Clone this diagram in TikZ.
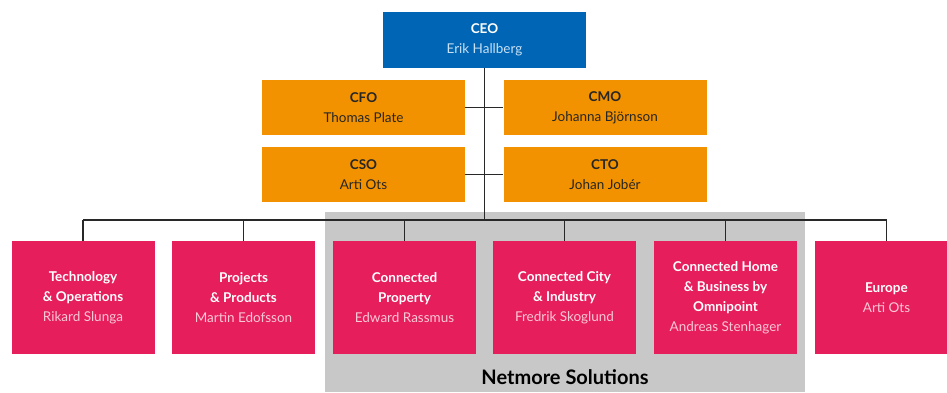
\documentclass[tikz,border=0pt]{standalone}
\usepackage{fontspec}
\setmainfont{Lato}
\usepackage{tikz}
\usepackage{xcolor}
\usetikzlibrary{positioning,calc}
\definecolor{ceoblue}{RGB}{0,101,180}
\definecolor{cxoorange}{RGB}{242,146,0}
\definecolor{unitpink}{RGB}{230,30,92}
\definecolor{namepink}{RGB}{250,200,215}
\definecolor{nameblue}{RGB}{200,225,245}
\definecolor{areagray}{RGB}{200,200,200}
\definecolor{linegray}{RGB}{40,40,40}

\tikzset{
  orgbox/.style={inner sep=0pt,align=center,font=\fontsize{13.5}{20}\selectfont},
  ceobox/.style={orgbox,fill=ceoblue,text=white,minimum width=203pt,minimum height=56pt},
  cxobox/.style={orgbox,fill=cxoorange,text=black!85,minimum width=203pt,minimum height=55pt},
  unitbox/.style={orgbox,fill=unitpink,text=white,minimum width=143pt,minimum height=113pt},
  orgline/.style={draw=linegray,line width=1.4pt}
}

\begin{document}
\begin{tikzpicture}[x=1pt,y=-1pt]
\useasboundingbox (0,0) rectangle (947,392);
% shaded area behind the Netmore units
\node[fill=areagray,minimum width=480pt,minimum height=180pt,inner sep=0pt] (netmore) at (565,302) {};
\node[font=\fontsize{20}{22}\selectfont\bfseries] (netlabel) at (565,377) {Netmore Solutions};

% top management
\node[ceobox] (ceo) at (484.5,40) {\textbf{CEO}\\{\color{nameblue}Erik Hallberg}};
\node[cxobox] (cfo) at (363.5,107.5) {\textbf{CFO}\\Thomas Plate};
\node[cxobox] (cmo) at (605,107.5) {\textbf{CMO}\\Johanna Björnson};
\node[cxobox] (cso) at (363.5,174.5) {\textbf{CSO}\\Arti Ots};
\node[cxobox] (cto) at (605,174.5) {\textbf{CTO}\\Johan Jobér};

% business units
\node[unitbox] (tech) at (83,297.5) {\textbf{Technology}\\\textbf{\& Operations}\\{\color{namepink}Rikard Slunga}};
\node[unitbox] (proj) at (243.5,297.5) {\textbf{Projects}\\\textbf{\& Products}\\{\color{namepink}Martin Edofsson}};
\node[unitbox] (prop) at (404.5,297.5) {\textbf{Connected}\\\textbf{Property}\\{\color{namepink}Edward Rassmus}};
\node[unitbox] (city) at (564.5,297.5) {\textbf{Connected City}\\\textbf{\& Industry}\\{\color{namepink}Fredrik Skoglund}};
\node[unitbox] (home) at (725.5,297.5) {\textbf{Connected Home}\\\textbf{\& Business by}\\\textbf{Omnipoint}\\{\color{namepink}Andreas Stenhager}};
\node[unitbox] (eur) at (886.5,297.5) {\textbf{Europe}\\{\color{namepink}Arti Ots}};

% connectors
\coordinate (bus) at (484.5,220);
\draw[orgline] (ceo.south) -- (bus);
\draw[orgline] (cfo.east) -- (cmo.west);
\draw[orgline] (cso.east) -- (cto.west);
\draw[orgline] (tech.north |- bus) -- (eur.north |- bus);
\foreach \u in {tech,proj,prop,city,home,eur}
  \draw[orgline] (\u.north |- bus) -- (\u.north);
\end{tikzpicture}
\end{document}
